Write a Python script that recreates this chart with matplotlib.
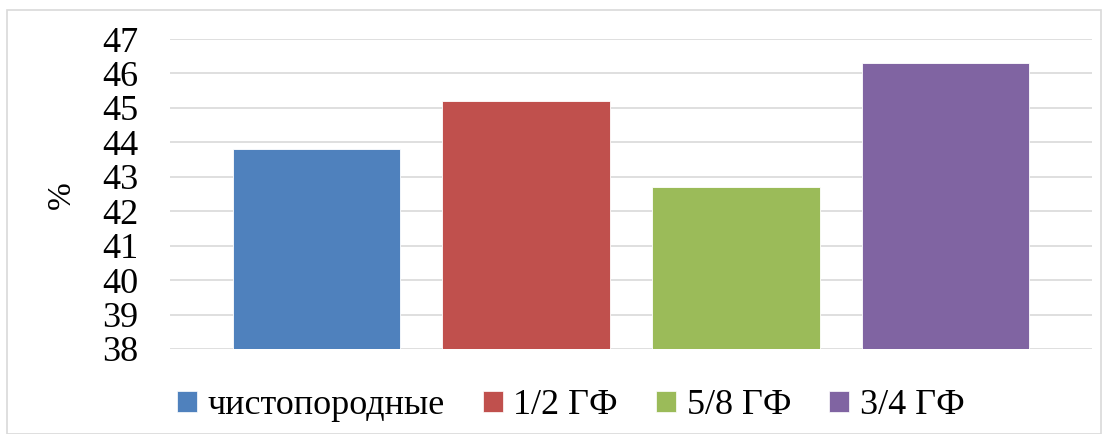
import matplotlib.pyplot as plt
import numpy as np
from matplotlib.patches import Rectangle, Patch

groups = ['чистопородные', '1/2 ГФ', '5/8 ГФ', '3/4 ГФ']
values = [43.8, 45.2, 42.7, 46.3]
colors = ['#4F81BD', '#C0504D', '#9BBB59', '#8064A2']
yticks = list(range(38, 48))

plt.rcParams['font.family'] = ['Liberation Serif', 'DejaVu Serif']

fig = plt.figure(figsize=(11.08, 4.34), dpi=100)
ax = fig.add_axes([0.1534, 0.1959, 0.8322, 0.7142])

x = np.arange(len(groups))
ax.bar(x, values, width=0.8, color=colors, edgecolor='white', linewidth=0.6, zorder=3)

ax.set_ylim(38, 47)
ax.set_xlim(-0.70, 3.70)
ax.set_yticks(yticks)
ax.set_yticklabels([str(t) for t in yticks], fontsize=26)
ax.tick_params(axis='y', length=0, pad=23)
ax.set_xticks([])
ax.grid(axis='y', color='#d9d9d9', linewidth=1.2, zorder=0)
for s in ax.spines.values():
    s.set_visible(False)

fig.text(0.056, 0.55, '%', rotation=90, fontsize=24, ha='center', va='center')

handles = [Patch(facecolor=c, edgecolor='white', linewidth=0.5) for c in colors]
fig.legend(handles, groups, loc='center', bbox_to_anchor=(0.515, 0.065), ncol=4,
           frameon=False, fontsize=26, handlelength=0.55, handleheight=0.55,
           handletextpad=0.3, columnspacing=1.05)

# thin frame around the whole chart
fig.patches.append(Rectangle((0.006, 0.0), 0.988, 0.977, transform=fig.transFigure,
                             fill=False, edgecolor='#d9d9d9', linewidth=1.2))

fig.savefig('out.png', dpi=100)
